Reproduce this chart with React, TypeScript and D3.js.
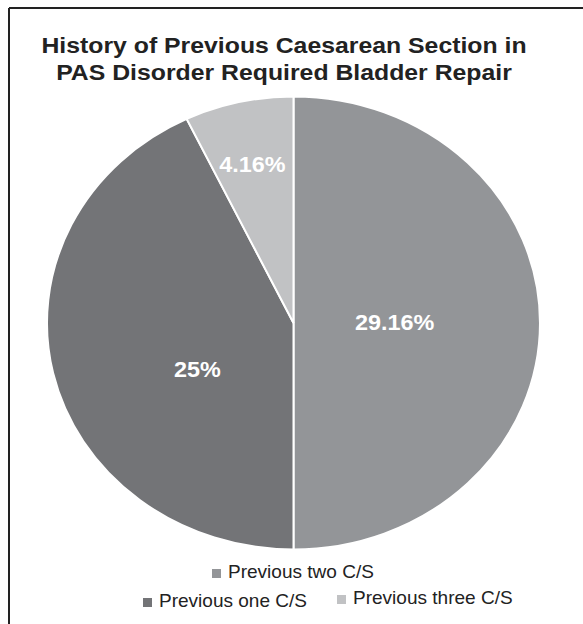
import React from "react";
import * as d3 from "d3";

const categories = ["Previous two C/S", "Previous one C/S", "Previous three C/S"];
const values = [29.16, 25, 4.16];
const valueLabels = ["29.16%", "25%", "4.16%"];
const colors = ["#939598", "#737477", "#c1c2c4"];
const titleLines = ["History of Previous Caesarean Section in", "PAS Disorder Required Bladder Repair"];

const W = 583;
const H = 624;
const cx = 293.5;
const cy = 323;
const rx = 246.5;
const ry = 226.5;
const SX = rx / ry; // horizontal stretch of the whole picture
// label placement: radial fraction and angle shift from slice middle
const labelFrac = [0.41, 0.44, 0.72];
const labelShift = [-0.01, -0.26, -0.01];

function SText(props: { x: number; y: number; children: React.ReactNode; [k: string]: any }) {
  const { x, y, children, ...rest } = props;
  return (
    <g transform={`translate(${x},${y}) scale(${SX},1)`}>
      <text x={0} y={0} {...rest}>
        {children}
      </text>
    </g>
  );
}

export default function App() {
  const pie = d3.pie<number>().sort(null).value((d) => d);
  const arcs = pie(values);
  const arcGen = d3.arc<d3.PieArcDatum<number>>().innerRadius(0).outerRadius(ry);
  const font = "'Liberation Sans', Arial, sans-serif";

  const legendRows = [
    [{ i: 0, x: 212, y: 578 }],
    [
      { i: 1, x: 143, y: 607 },
      { i: 2, x: 337, y: 604 },
    ],
  ];

  return (
    <svg
      width={W}
      height={H}
      style={{ position: "absolute", left: 0, top: 0, display: "block", background: "#fff" }}
    >
      <line x1={9} y1={8} x2={W} y2={8} stroke="#222" strokeWidth={2} />
      <line x1={9} y1={8} x2={9} y2={H} stroke="#222" strokeWidth={2} />
      <g fontFamily={font} fontWeight="bold" fontSize={22.8} fill="#222" textAnchor="middle">
        {titleLines.map((t, i) => (
          <SText key={i} x={284} y={53 + i * 27}>
            {t}
          </SText>
        ))}
      </g>
      <g transform={`translate(${cx},${cy}) scale(${SX},1)`}>
        {arcs.map((a, i) => (
          <path
            key={i}
            d={arcGen(a) || ""}
            fill={colors[i]}
            stroke="#fff"
            strokeWidth={2}
            vectorEffect="non-scaling-stroke"
          />
        ))}
      </g>
      <g fontFamily={font} fontWeight="bold" fontSize={21.5} fill="#fff" textAnchor="middle">
        {arcs.map((a, i) => {
          const mid = (a.startAngle + a.endAngle) / 2 + labelShift[i];
          const x = cx + Math.sin(mid) * rx * labelFrac[i];
          const y = cy - Math.cos(mid) * ry * labelFrac[i];
          return (
            <SText key={i} x={x} y={y} dy="0.36em">
              {valueLabels[i]}
            </SText>
          );
        })}
      </g>
      <g fontFamily={font} fontSize={17.5} fill="#222">
        {legendRows.flat().map(({ i, x, y }) => (
          <g key={i}>
            <rect x={x} y={y - 9} width={9} height={9} fill={colors[i]} />
            <SText x={x + 16} y={y}>
              {categories[i]}
            </SText>
          </g>
        ))}
      </g>
    </svg>
  );
}
